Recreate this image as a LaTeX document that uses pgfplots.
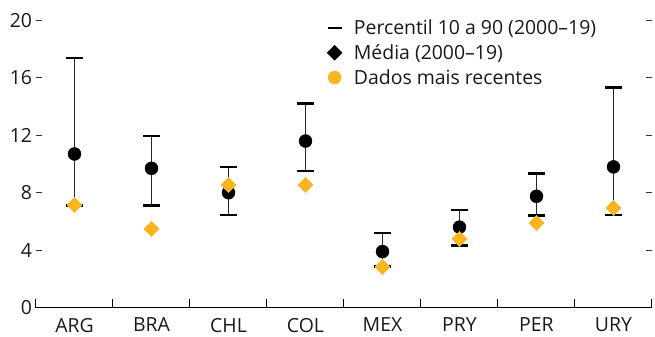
\documentclass[border=0pt]{standalone}
\usepackage{pgfplots}
\usepackage{pgfplotstable}
\usepackage{fontspec}
\setmainfont{Open Sans}
\pgfplotsset{compat=1.18}

\definecolor{recentorange}{RGB}{253,181,31}

% columns: position, 10th percentile, 90th percentile, mean, latest value
\pgfplotstableread{
x lo hi mean rec
0 7.1 17.4 10.7 7.15
1 7.1 11.95 9.7 5.5
2 6.45 9.8 8.0 8.55
3 9.5 14.2 11.6 8.55
4 2.85 5.2 3.9 2.85
5 4.3 6.8 5.6 4.8
6 6.4 9.35 7.75 5.9
7 6.45 15.35 9.8 6.95
}\datatable

\begin{document}
\begin{tikzpicture}
\path[use as bounding box] (-36bp,-29.5bp) rectangle (619bp,307.5bp);
\begin{axis}[
  scale only axis,
  width=616bp, height=287bp,
  xmin=-0.5, xmax=7.5,
  ymin=0, ymax=20,
  clip=false,
  separate axis lines,
  axis x line*=bottom,
  y axis line style={draw=none},
  x axis line style={line width=1bp, black},
  xtick={0,...,7},
  xticklabels={ARG,BRA,CHL,COL,MEX,PRY,PER,URY},
  minor xtick={-0.5,0.5,...,7.5},
  major x tick style={draw=none},
  minor x tick style={line width=1bp, black},
  minor tick length=8bp,
  ytick={0,4,...,20},
  ytick pos=both,
  yticklabel pos=left,
  major y tick style={line width=1bp, black!80},
  major tick length=6bp,
  tick align=inside,
  /pgf/number format/assume math mode=true,
  tick label style={font=\fontsize{19.5}{22}\selectfont, text=black!90},
  yticklabel style={xshift=-0.5bp},
  xticklabel style={yshift=-7bp},
  legend cell align=left,
  legend style={at={(0.471,1.01)}, anchor=north west, draw=none, fill=none,
    font=\fontsize{19.5}{22}\selectfont, text=black!90, row sep=4.5bp, inner sep=0pt,
    /tikz/every odd column/.append style={column sep=9bp}},
]
% legend entries
\addlegendimage{legend image code/.code={\draw[line width=2.6bp, black] (0bp,0bp) -- (14bp,0bp);}}
\addlegendentry{Percentil 10 a 90 (2000–19)}
\addlegendimage{legend image code/.code={\fill[black] (7bp,-7.5bp) -- (14.5bp,0bp) -- (7bp,7.5bp) -- (-0.5bp,0bp) -- cycle;}}
\addlegendentry{Média (2000–19)}
\addlegendimage{legend image code/.code={\fill[recentorange] (7bp,0bp) circle (6.5bp);}}
\addlegendentry{Dados mais recentes}

% percentile range with mean
\addplot[forget plot, only marks, mark=*, mark size=6.5bp, black,
  error bars/.cd, y dir=both, y explicit,
  error bar style={line width=1.5bp, black!85},
  error mark options={line width=2.6bp, mark size=8.3bp, black, rotate=90}]
  table[x=x, y=mean,
        y error plus expr=\thisrow{hi}-\thisrow{mean},
        y error minus expr=\thisrow{mean}-\thisrow{lo}] {\datatable};

% latest observation
\addplot[forget plot, only marks, recentorange, mark=square*, mark size=5.3bp,
  mark options={rotate=45, fill=recentorange, draw=recentorange, line width=0pt}]
  table[x=x, y=rec] {\datatable};
\end{axis}
\end{tikzpicture}
\end{document}
